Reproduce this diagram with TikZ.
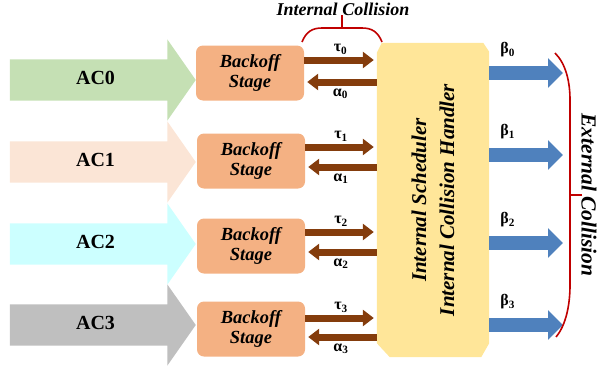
\documentclass[tikz,border=0pt]{standalone}
\usepackage{fontspec}
\setmainfont{Liberation Serif}
\usetikzlibrary{shapes.arrows,arrows.meta}
\definecolor{ga}{RGB}{197, 224, 180}
\definecolor{pa}{RGB}{251, 229, 214}
\definecolor{ca}{RGB}{204, 255, 255}
\definecolor{sa}{RGB}{191, 191, 191}
\definecolor{oo}{RGB}{244, 177, 131}
\definecolor{yy}{RGB}{255, 230, 153}
\definecolor{br}{RGB}{132, 60, 12}
\definecolor{bb}{RGB}{79, 129, 189}
\definecolor{rr}{RGB}{192, 0, 0}

\begin{document}
\begin{tikzpicture}[
  ac/.style={single arrow, single arrow head extend=20pt, single arrow tip angle=110,
    minimum height=186pt, inner xsep=0pt, inner ysep=16pt, text height=9pt, text depth=0pt,
    anchor=tip, font=\fontsize{20}{22}\selectfont\bfseries},
  backoff/.style={rectangle, rounded corners=7pt, fill=oo, minimum width=108pt, minimum height=55pt,
    align=center, font=\fontsize{18.5}{20}\selectfont\bfseries\itshape},
  tau/.style={draw=br, line width=7pt, -{Triangle[width=16pt,length=11pt]}},
  beta/.style={draw=bb, line width=14pt, -{Triangle[width=29pt,length=15pt]}},
  lbl/.style={font=\fontsize{16}{16}\selectfont\bfseries, inner sep=1pt},
  brace/.style={draw=rr, line width=1.6pt}]
\useasboundingbox (0pt,0pt) rectangle (599pt,-372pt);
% access categories
\node (ac0) [ac, fill=ga] at (196pt, -80pt) {AC0};
\node (ac1) [ac, fill=pa] at (196pt, -162pt) {AC1};
\node (ac2) [ac, fill=ca] at (196pt, -244pt) {AC2};
\node (ac3) [ac, fill=sa] at (196pt, -325pt) {AC3};
% backoff stages
\node (bs0) [backoff] at (250pt, -73pt) {Backoff\\Stage};
\node (bs1) [backoff] at (251pt, -161pt) {Backoff\\Stage};
\node (bs2) [backoff] at (251pt, -246pt) {Backoff\\Stage};
\node (bs3) [backoff] at (251pt, -329pt) {Backoff\\Stage};
% scheduler, corners cut off
\node (sched) [minimum width=112pt, minimum height=314pt, inner sep=0pt] at (433pt, -200pt) {};
\fill [yy] ([xshift=5pt]sched.north west) -- ([xshift=-6pt]sched.north east)
  -- ([yshift=-9pt]sched.north east) -- ([yshift=14pt]sched.south east)
  -- ([xshift=-8pt]sched.south east) -- ([xshift=13pt]sched.south west)
  -- ([yshift=14pt]sched.south west) -- ([yshift=-10pt]sched.north west) -- cycle;
\node (schedtxt) [rotate=90, align=center, font=\fontsize{21}{28}\selectfont\bfseries\itshape]
  at (sched.center) {Internal Scheduler\\Internal Collision Handler};
% tau / alpha
\foreach \i/\t/\a in {0/13/-9, 1/14/-6, 2/14/-6, 3/11/-8}{
  \draw [tau, shorten >=3pt] ([yshift=\t pt]bs\i.east) -- ([yshift=\t pt]bs\i.east -| sched.west)
    node [lbl, midway, above=1pt] {τ\textsubscript{\i}};
  \draw [tau, shorten >=3pt] ([yshift=\a pt]bs\i.east -| sched.west) -- ([yshift=\a pt]bs\i.east)
    node [lbl, midway, below=2pt] {α\textsubscript{\i}};
}
% beta
\coordinate (b0) at (563pt, -73pt);
\coordinate (b1) at (563pt, -155pt);
\coordinate (b2) at (563pt, -243pt);
\coordinate (b3) at (563pt, -325pt);
\foreach \i in {0,...,3}{
  \draw [beta] (sched.east |- b\i) -- (b\i) node [lbl, pos=0.25, above=8pt] {β\textsubscript{\i}};
}
% collisions
\draw [brace] (302pt, -42pt) .. controls (306pt, -32pt) and (312pt, -28pt) .. (322pt, -28pt)
  -- (362pt, -28pt) .. controls (372pt, -28pt) and (378pt, -32pt) .. (382pt, -42pt);
\draw [brace] (342pt, -28pt) -- (342pt, -15pt);
\node (ic) [font=\fontsize{18}{18}\selectfont\bfseries\itshape] at (343pt, -9pt) {Internal Collision};
\draw [brace] (555pt, -53pt) .. controls (566pt, -64pt) and (570pt, -82pt) .. (570pt, -100pt)
  -- (570pt, -285pt) .. controls (570pt, -305pt) and (566pt, -325pt) .. (556pt, -337pt);
\draw [brace] (570pt, -195pt) -- (582pt, -195pt);
\node (ec) [rotate=-90, font=\fontsize{21.5}{21.5}\selectfont\bfseries\itshape] at (589pt, -195pt) {External Collision};
\end{tikzpicture}
\end{document}
